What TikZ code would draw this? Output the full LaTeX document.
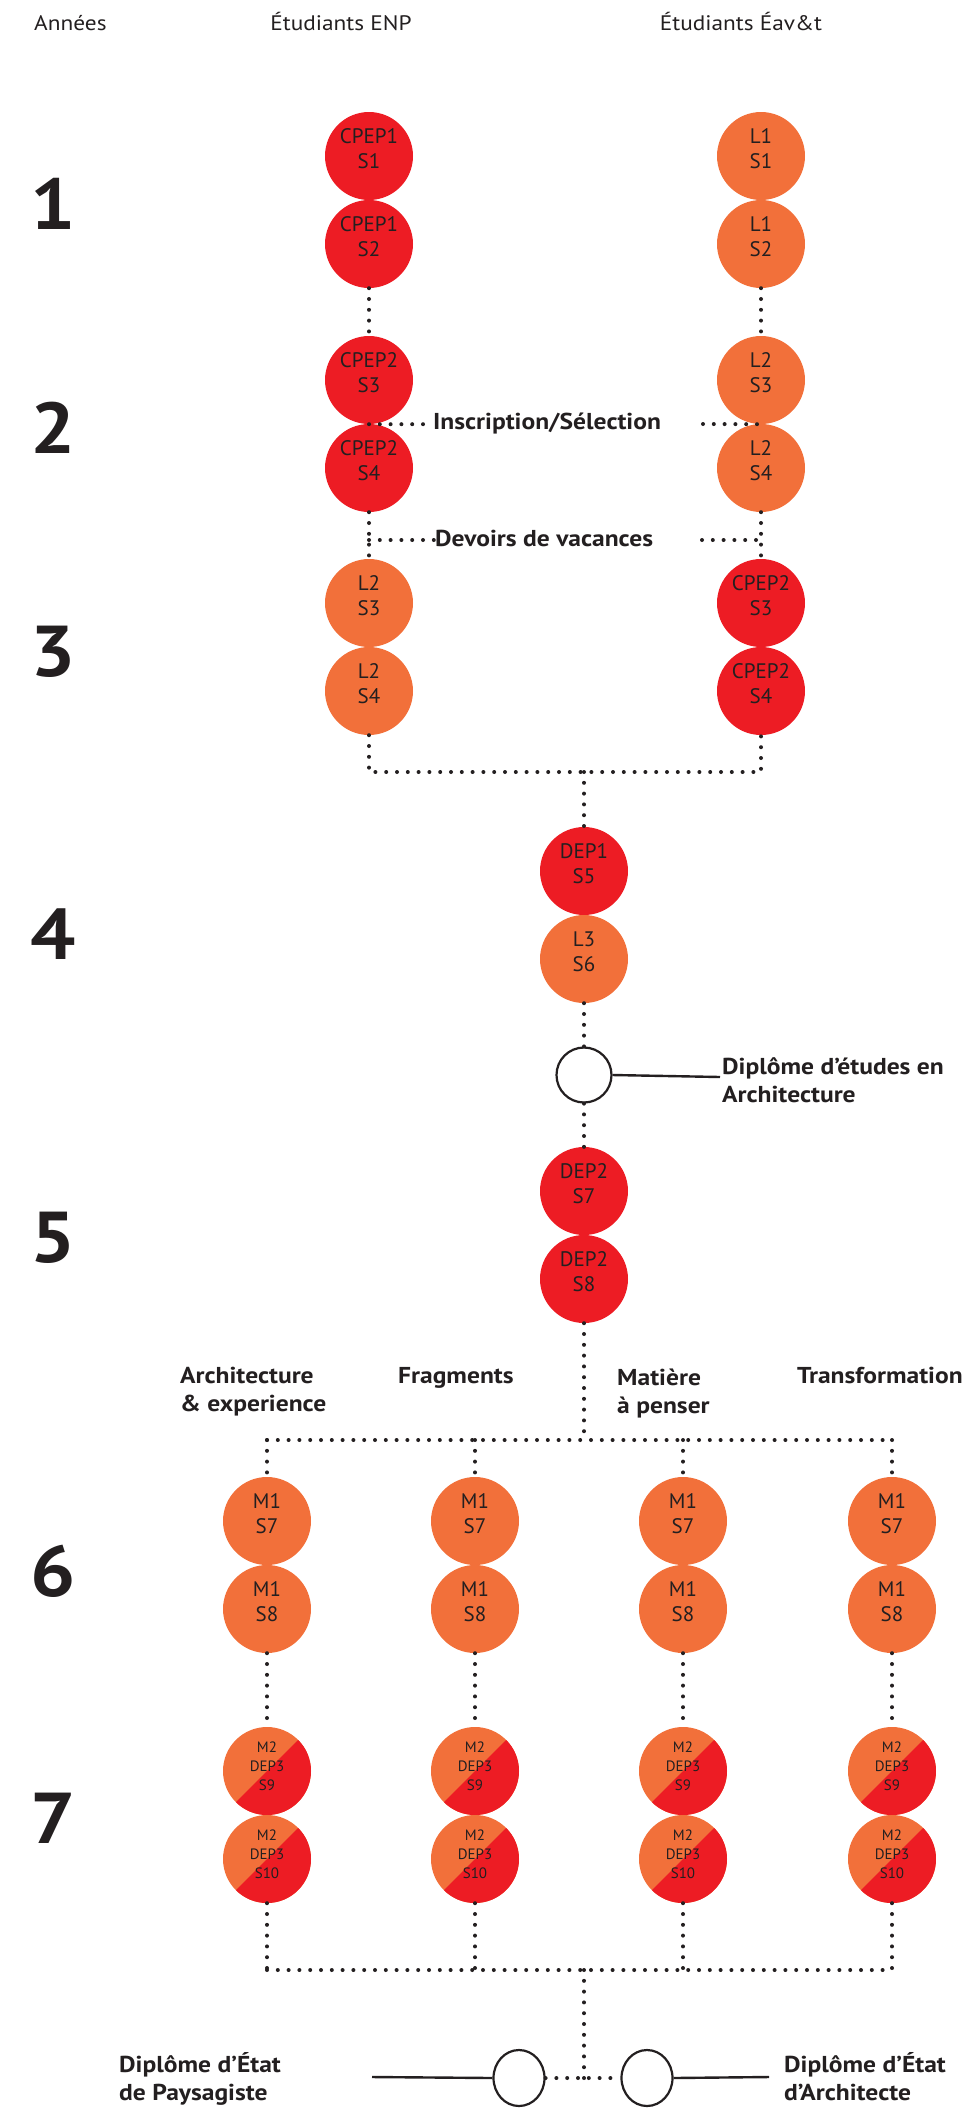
\documentclass[tikz,border=0pt]{standalone}
\usepackage{fontspec}
\setmainfont{PT Sans}
\newfontfamily\widefont{PT Sans}[FakeStretch=1.11]
\usetikzlibrary{calc,shapes.geometric}
\definecolor{cred}{HTML}{ED1C24}
\definecolor{corange}{HTML}{F2703A}
\definecolor{ink}{HTML}{231F20}
\newcommand\twoline[2]{\begin{tabular}{@{}c@{}}#1\\#2\rule[-17.5pt]{0pt}{0pt}\end{tabular}}
\newcommand\threeline[3]{\begin{tabular}{@{}c@{}}#1\\#2\\#3\rule[-13.3pt]{0pt}{0pt}\end{tabular}}
\newcommand\lines[1]{\begin{tabular}[t]{@{}l@{}}#1\end{tabular}}
\tikzset{
  sem/.style={circle, inner sep=0pt, minimum size=88pt, text=ink, font=\fontsize{21}{25}\selectfont},
  enp/.style={sem, fill=cred},
  eav/.style={sem, fill=corange},
  mixed/.style={sem, fill=corange, font=\fontsize{15}{19}\selectfont,
    path picture={\fill[cred] (path picture bounding box.south west) -- (path picture bounding box.north east) -- (path picture bounding box.south east) -- cycle;}},
  dipc/.style={circle, draw=ink, line width=2.2pt, fill=white, minimum size=55pt, inner sep=0pt},
  dipe/.style={ellipse, draw=ink, line width=2.2pt, fill=white, minimum width=51pt, minimum height=56pt, inner sep=0pt},
  dotl/.style={draw=ink, line width=4pt, line cap=round, dash pattern=on 0pt off 10.8pt},
  solidl/.style={draw=ink, line width=2.4pt},
  lbl/.style={font=\widefont\fontsize{23}{28}\selectfont\bfseries, text=ink, inner sep=0pt},
  yearl/.style={font=\widefont\fontsize{72}{72}\selectfont\bfseries, text=ink, inner sep=0pt},
  head/.style={font=\widefont\fontsize{21}{25}\selectfont, text=ink, inner sep=0pt}
}
\begin{document}
\begin{tikzpicture}[x=1pt,y=-1pt]
\useasboundingbox (0,0) rectangle (979,2110);
% headers
\node[head, anchor=base west] (h0) at (34,30) {Années};
\node[head, anchor=base] (h1) at (341,30) {Étudiants ENP};
\node[head, anchor=base] (h2) at (741,30) {Étudiants Éav\&t};
% years
\node[yearl] (y1) at (53,204) {1};
\node[yearl] (y2) at (53,428) {2};
\node[yearl] (y3) at (53,652) {3};
\node[yearl] (y4) at (53,934) {4};
\node[yearl] (y5) at (53,1238) {5};
\node[yearl] (y6) at (53,1571) {6};
\node[yearl] (y7) at (53,1818) {7};
% ENP column
\node[enp] (a1) at (369,156) {\twoline{CPEP1}{S1}};
\node[enp] (a2) at (369,244) {\twoline{CPEP1}{S2}};
\node[enp] (a3) at (369,380) {\twoline{CPEP2}{S3}};
\node[enp] (a4) at (369,468) {\twoline{CPEP2}{S4}};
\node[eav] (a5) at (369,603) {\twoline{L2}{S3}};
\node[eav] (a6) at (369,691) {\twoline{L2}{S4}};
% Eav&t column
\node[eav] (b1) at (761,156) {\twoline{L1}{S1}};
\node[eav] (b2) at (761,244) {\twoline{L1}{S2}};
\node[eav] (b3) at (761,380) {\twoline{L2}{S3}};
\node[eav] (b4) at (761,468) {\twoline{L2}{S4}};
\node[enp] (b5) at (761,603) {\twoline{CPEP2}{S3}};
\node[enp] (b6) at (761,691) {\twoline{CPEP2}{S4}};
% common column
\node[enp] (c1) at (584,871) {\twoline{DEP1}{S5}};
\node[eav] (c2) at (584,959) {\twoline{L3}{S6}};
\node[dipc] (dip) at (584,1075) {};
\node[enp] (c3) at (584,1191) {\twoline{DEP2}{S7}};
\node[enp] (c4) at (584,1279) {\twoline{DEP2}{S8}};
% branches
\foreach \i/\x in {1/267,2/475,3/683,4/892}{
  \node[eav] (p\i) at (\x,1521) {\twoline{M1}{S7}};
  \node[eav] (q\i) at (\x,1609) {\twoline{M1}{S8}};
  \node[mixed] (r\i) at (\x,1771) {\threeline{M2}{DEP3}{S9}};
  \node[mixed] (s\i) at (\x,1859) {\threeline{M2}{DEP3}{S10}};
}
% final diplomas
\node[dipe] (dL) at (519,2078) {};
\node[dipe] (dR) at (647,2078) {};
% labels
\node[lbl, anchor=base west] (t1) at (433,429) {Inscription/Sélection};
\node[lbl, anchor=base west] (t2) at (435,546) {Devoirs de vacances};
\node[lbl, anchor=base west] (t3) at (722,1074) {\lines{Diplôme d’études en\\Architecture}};
\node[lbl, anchor=base west] (l1) at (180,1383) {\lines{Architecture\\\& experience}};
\node[lbl, anchor=base west] (l2) at (398,1383) {Fragments};
\node[lbl, anchor=base west] (l3) at (617,1385) {\lines{Matière\\à penser}};
\node[lbl, anchor=base west] (l4) at (797,1383) {Transformation};
\node[lbl, anchor=base west] (t4) at (119,2072) {\lines{Diplôme d’État\\de Paysagiste}};
\node[lbl, anchor=base west] (t5) at (784,2072) {\lines{Diplôme d’État\\d’Architecte}};
% coordinates
\coordinate (insR) at (703,424);
\coordinate (devL) at (369,540);
\coordinate (devR) at (702,540);
\coordinate (devRE) at (761,540);
\coordinate (j1L) at (369,772);
\coordinate (j1R) at (761,772);
\coordinate (j1M) at (584,772);
\coordinate (j2L) at (267,1440);
\coordinate (j2R) at (892,1440);
\coordinate (j2M) at (584,1440);
\coordinate (j3L) at (267,1970);
\coordinate (j3R) at (892,1970);
\coordinate (j3M) at (584,1970);
\coordinate (j4) at (584,2078);
\coordinate (dipEnd) at (720,1077);
\coordinate (pL) at (372,2077);
\coordinate (pR) at (769,2077);
% dotted connectors
\draw[dotl] (a2.south) -- (a3.north);
\draw[dotl] (a4.south) -- (a5.north);
\draw[dotl] (b2.south) -- (b3.north);
\draw[dotl] (b4.south) -- (b5.north);
\draw[dotl] (a3.south) -- (a3.south -| t1.west);
\draw[dotl] (insR) -- (b3.south);
\draw[dotl] (devL) -- (devL -| t2.west);
\draw[dotl] (devR) -- (devRE);
\draw[dotl] (a6.south) -- (j1L) -- (j1R) -- (b6.south);
\draw[dotl] (j1M) -- (c1.north);
\draw[dotl] (c2.south) -- (dip.north);
\draw[dotl] (dip.south) -- (c3.north);
\draw[dotl] (c4.south) -- (j2M);
\draw[dotl] (j2L) -- (j2R);
\draw[dotl] (j3L) -- (j3R);
\foreach \i in {1,2,3,4}{
  \draw[dotl] (p\i.north |- j2M) -- (p\i.north);
  \draw[dotl] (q\i.south) -- (r\i.north);
  \draw[dotl] (s\i.south) -- (s\i.south |- j3M);
}
\draw[dotl] (j3M) -- (j4);
\draw[dotl] (dL.east) -- (dR.west);
% solid connectors
\draw[solidl] (dip.east) -- (dipEnd);
\draw[solidl] (pL) -- (dL.west);
\draw[solidl] (dR.east) -- (pR);
\end{tikzpicture}
\end{document}
